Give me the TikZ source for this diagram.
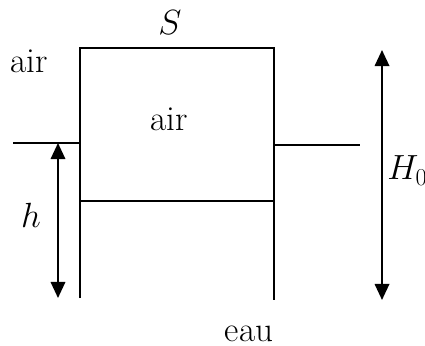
\documentclass[tikz,border=0pt]{standalone}
\usepackage{tikz}
\usetikzlibrary{arrows.meta}

\tikzset{
  wall/.style={line width=1.5pt},
  gauge/.style={line width=1.5pt, {Triangle[length=4mm,width=3.6mm]}-{Triangle[length=4mm,width=3.6mm]}},
  lbl/.style={font=\fontsize{25}{29}\selectfont, anchor=base, inner sep=0pt}
}

\begin{document}
\begin{tikzpicture}[x=0.025cm, y=-0.025cm]
  \useasboundingbox (0,0) rectangle (425,346);
  % bell corners and water levels
  \coordinate (bl) at (80,298);
  \coordinate (tl) at (80,48);
  \coordinate (tr) at (274,48);
  \coordinate (br) at (274,300);
  \coordinate (inl) at (80,201);
  \coordinate (inr) at (274,201);
  \coordinate (outl) at (13,143);
  \coordinate (wl) at (80,143);
  \coordinate (wr) at (274,145);
  \coordinate (outr) at (360,145);
  \draw[wall] (bl) -- (tl) -- (tr) -- (br);
  \draw[wall] (inl) -- (inr);
  \draw[wall] (outl) -- (wl);
  \draw[wall] (wr) -- (outr);
  % heights
  \coordinate (htop) at (58,143);
  \coordinate (hbot) at (58,298);
  \coordinate (Htop) at (382,50);
  \coordinate (Hbot) at (382,300);
  \draw[gauge] (hbot) -- (htop);
  \draw[gauge] (Hbot) -- (Htop);
  % labels
  \node[lbl] (S) at (170,35) {$S$};
  \node[lbl] (airout) at (29,73) {air};
  \node[lbl] (airin) at (169,131) {air};
  \node[lbl] (h) at (31,228) {$h$};
  \node[lbl, anchor=base west] (H) at (387,180) {$H_0$};
  \node[lbl] (eau) at (249,341) {eau};
\end{tikzpicture}
\end{document}
